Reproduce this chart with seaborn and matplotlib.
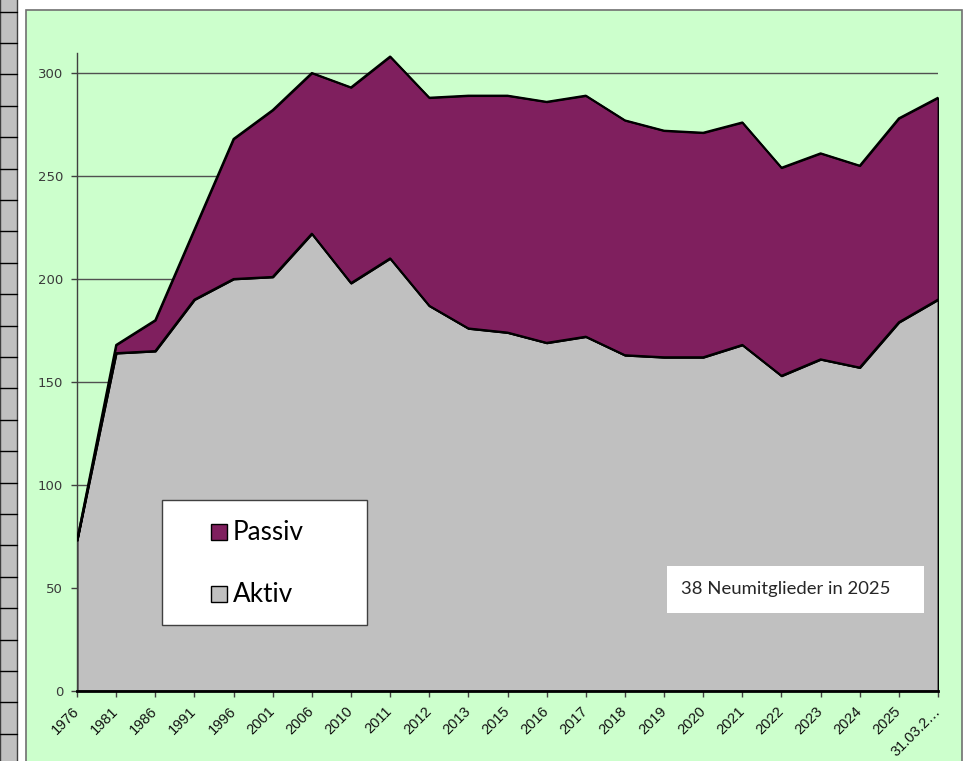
import matplotlib
matplotlib.use("Agg")
import matplotlib.pyplot as plt
import seaborn as sns
from matplotlib.patches import Rectangle
from matplotlib.lines import Line2D

# --- data ---
years = ['1976', '1981', '1986', '1991', '1996', '2001', '2006', '2010', '2011',
         '2012', '2013', '2015', '2016', '2017', '2018', '2019', '2020', '2021',
         '2022', '2023', '2024', '2025', '31.03.2…']
aktiv = [73, 164, 165, 190, 200, 201, 222, 198, 210, 187, 176, 174, 169, 172,
         163, 162, 162, 168, 153, 161, 157, 179, 190]
passiv = [0, 4, 15, 34, 68, 81, 78, 95, 98, 101, 113, 115, 117, 117,
          114, 110, 109, 108, 101, 100, 98, 99, 98]
y_ticks = [0, 50, 100, 150, 200, 250, 300]
note_text = '38 Neumitglieder in 2025'

GREEN = '#ccffcc'
PLUM = '#7f1f5e'
GRAY = '#c0c0c0'

sns.set_style('white')
plt.rcParams['font.family'] = ['DejaVu Sans']

W, H = 980, 761
fig = plt.figure(figsize=(W / 100, H / 100), dpi=100)
fig.patch.set_facecolor('white')

# spreadsheet strip on the left and the green chart area (behind the axes)
fig.add_artist(Rectangle((0, -0.01), 17 / W, 1.02, transform=fig.transFigure,
                         facecolor=GRAY, edgecolor='#404040', lw=1, zorder=-3))
for k in range(25):
    yy = 1 - (11.5 + 31.4 * k) / H
    fig.add_artist(Line2D([0, 17 / W], [yy, yy], transform=fig.transFigure,
                          color='black', lw=1, zorder=-2))
fig.add_artist(Rectangle((26 / W, -0.01), (962 - 26) / W, 1 - 10 / H + 0.01,
                         transform=fig.transFigure, facecolor=GREEN,
                         edgecolor='#707070', lw=1.2, zorder=-3))

ax = fig.add_axes([77 / W, 1 - 691 / H, (938 - 77) / W, (691 - 53) / H])
ax.patch.set_alpha(0)

pos = list(range(len(years)))
total = [a + p for a, p in zip(aktiv, passiv)]

ax.stackplot(pos, aktiv, passiv, colors=[GRAY, PLUM], edgecolor='black',
             linewidth=1.3, zorder=2)
sns.lineplot(x=pos, y=total, color='black', lw=1.5, ax=ax, zorder=3)
sns.lineplot(x=pos, y=aktiv, color='black', lw=1.5, ax=ax, zorder=3)

ax.set_xlim(0, len(years) - 1)
ax.set_ylim(0, 309.7)
ax.set_yticks(y_ticks)
ax.set_yticklabels([str(v) for v in y_ticks], fontsize=9.5, color='#3a3a3a')
ax.set_xticks(pos)
ax.set_xticklabels(years, rotation=45, ha='right', va='center',
                   rotation_mode='anchor', fontsize=10.5,
                   family='Liberation Sans', color='#111111')
ax.yaxis.grid(True, color='#505050', lw=1)
ax.set_axisbelow(True)
ax.tick_params(axis='y', direction='out', length=4, width=1, color='#404040',
               pad=6, left=True)
ax.tick_params(axis='x', direction='out', length=4, width=1, color='#404040',
               pad=9, bottom=True)
for s in ['top', 'right']:
    ax.spines[s].set_visible(False)
ax.spines['left'].set_color('#404040')
ax.spines['left'].set_linewidth(1)
ax.spines['bottom'].set_color('black')
ax.spines['bottom'].set_linewidth(2)
ax.spines['bottom'].set_zorder(4)

# legend box
fig.add_artist(Rectangle((162 / W, 1 - 625 / H), (367 - 162) / W, 125 / H,
                         transform=fig.transFigure, facecolor='white',
                         edgecolor='#404040', lw=1, zorder=5))
for name, col, yc in [('Passiv', PLUM, 532), ('Aktiv', GRAY, 594)]:
    fig.add_artist(Rectangle((211 / W, 1 - (yc + 8) / H), 16 / W, 16 / H,
                             transform=fig.transFigure, facecolor=col,
                             edgecolor='black', lw=1, zorder=6))
    fig.text(233 / W, 1 - yc / H, name, fontsize=18.8, family='Lato',
             color='black', va='center', ha='left', zorder=6)

# note box
fig.add_artist(Rectangle((667 / W, 1 - 613 / H), (924 - 667) / W, 47 / H,
                         transform=fig.transFigure, facecolor='white',
                         edgecolor='none', zorder=5))
fig.text(681 / W, 1 - 589 / H, note_text, fontsize=13.3, family='Lato',
         color='#262626', va='center', ha='left', zorder=6)

fig.savefig('out.png', dpi=100)
